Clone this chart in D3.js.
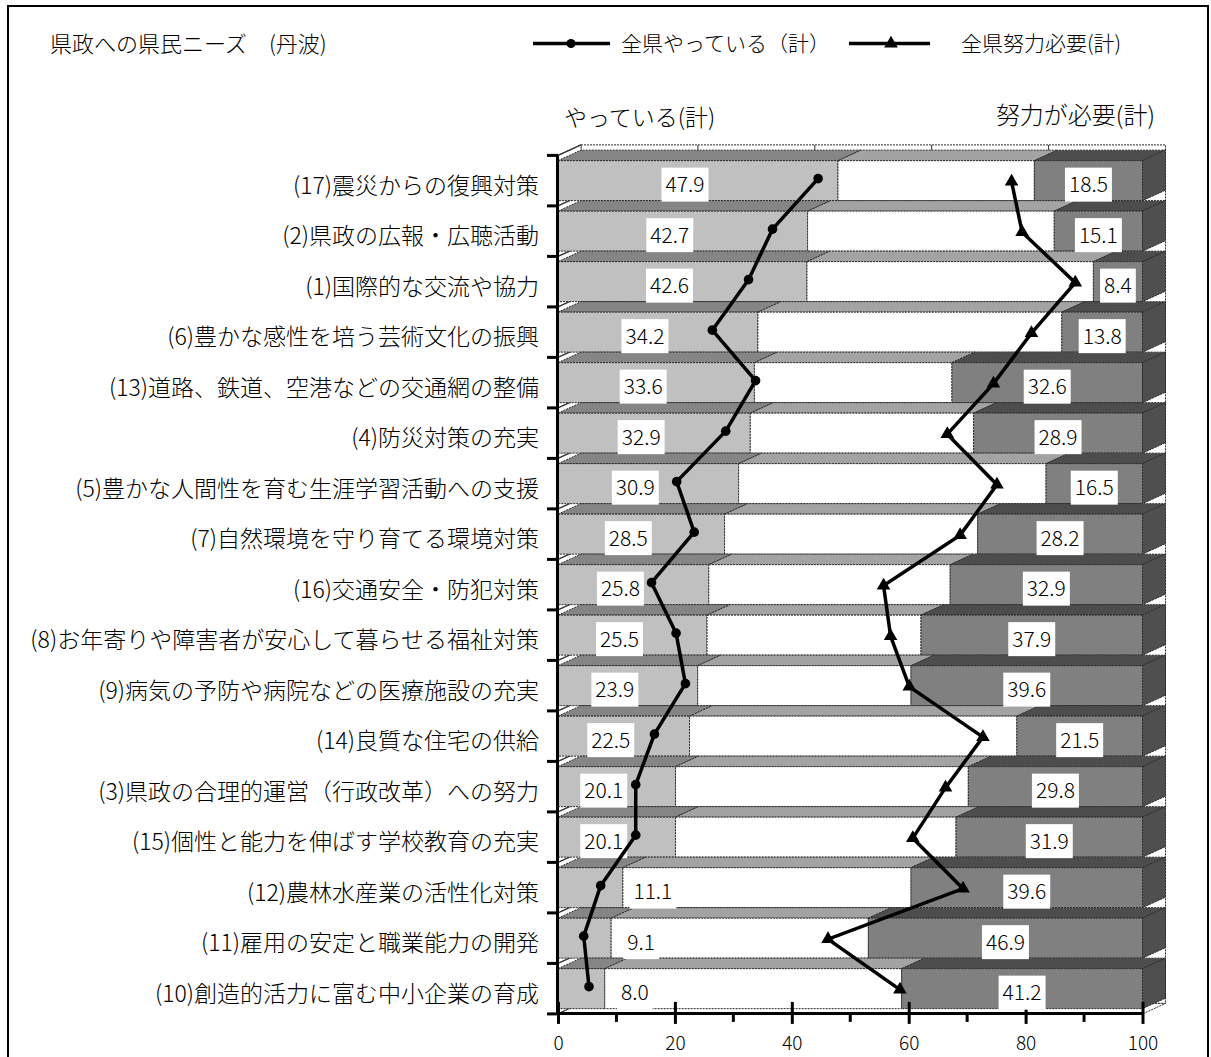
<!DOCTYPE html>
<html>
<head>
<meta charset="utf-8">
<script src="https://cdn.jsdelivr.net/npm/d3@7"></script>
<style>
  html, body { margin: 0; padding: 0; background: #fff; }
  svg text { font-family: "Noto Sans CJK JP", "Noto Sans", sans-serif; font-weight: 300; fill: #000; }
</style>
</head>
<body>
<svg id="chart" width="1211" height="1057"></svg>
<script>
// Items, top to bottom
const categories = [
  "(17)震災からの復興対策",
  "(2)県政の広報・広聴活動",
  "(1)国際的な交流や協力",
  "(6)豊かな感性を培う芸術文化の振興",
  "(13)道路、鉄道、空港などの交通網の整備",
  "(4)防災対策の充実",
  "(5)豊かな人間性を育む生涯学習活動への支援",
  "(7)自然環境を守り育てる環境対策",
  "(16)交通安全・防犯対策",
  "(8)お年寄りや障害者が安心して暮らせる福祉対策",
  "(9)病気の予防や病院などの医療施設の充実",
  "(14)良質な住宅の供給",
  "(3)県政の合理的運営（行政改革）への努力",
  "(15)個性と能力を伸ばす学校教育の充実",
  "(12)農林水産業の活性化対策",
  "(11)雇用の安定と職業能力の開発",
  "(10)創造的活力に富む中小企業の育成"
];
// 丹波: やっている(計) and 努力が必要(計), in %
const doing = [47.9, 42.7, 42.6, 34.2, 33.6, 32.9, 30.9, 28.5, 25.8, 25.5, 23.9, 22.5, 20.1, 20.1, 11.1, 9.1, 8.0];
const needEffort = [18.5, 15.1, 8.4, 13.8, 32.6, 28.9, 16.5, 28.2, 32.9, 37.9, 39.6, 21.5, 29.8, 31.9, 39.6, 46.9, 41.2];
// Prefecture-wide reference lines, in %
const allDoing = [44.5, 36.7, 32.6, 26.4, 33.8, 28.7, 20.3, 23.3, 16.0, 20.2, 21.8, 16.5, 13.3, 13.3, 7.3, 4.4, 5.3];
const allNeed = [22.4, 20.6, 11.5, 19.0, 25.5, 33.4, 24.9, 31.2, 44.3, 43.1, 39.9, 27.3, 33.7, 39.3, 30.7, 53.8, 41.5];
const xTicks = [0, 20, 40, 60, 80, 100];
const xMinorTicks = [10, 30, 50, 70, 90];

const title = "県政への県民ニーズ　(丹波)";
const legendNames = ["全県やっている（計）", "全県努力必要(計)"];
const leftHeading = "やっている(計)";
const rightHeading = "努力が必要(計)";

const svg = d3.select("#chart");
const x = d3.scaleLinear().domain([0, 100]).range([558, 1142.5]);
const y = d3.scaleBand().domain(categories).range([155.4, 1013.9])
  .paddingInner(0.208).paddingOuter(0.104);
const DX = 23, DY = 10.5; // 3D depth projection
const bw = y.bandwidth();
const yTop = y.range()[0], yBot = y.range()[1];

const edge = { stroke: "#2a2a2a", "stroke-width": 1, "stroke-dasharray": "2,1" };
function applyEdge(sel) { Object.entries(edge).forEach(([k, v]) => sel.attr(k, v)); return sel; }

// outer frame
svg.append("rect").attr("x", 8).attr("y", 6).attr("width", 1200).attr("height", 1070)
  .attr("fill", "none").attr("stroke", "#000").attr("stroke-width", 2);

// back wall
const gWall = svg.append("g");
applyEdge(gWall.append("rect")
  .attr("x", x(0) + DX).attr("y", yTop - DY)
  .attr("width", x(100) - x(0)).attr("height", yBot - yTop)
  .attr("fill", "#fff"));
gWall.selectAll("line.grid").data(xTicks.slice(1, -1)).join("line")
  .attr("x1", d => x(d) + DX).attr("x2", d => x(d) + DX)
  .attr("y1", yTop - DY).attr("y2", yBot - DY)
  .attr("stroke", "#333").attr("stroke-width", 1);
// left wall
applyEdge(gWall.append("path")
  .attr("d", `M${x(0)},${yTop}L${x(0) + DX},${yTop - DY}L${x(0) + DX},${yBot - DY}L${x(0)},${yBot}Z`)
  .attr("fill", "#fff"));
const boundaries = d3.range(categories.length + 1).map(i => yTop + i * y.step());
gWall.selectAll("line.lw").data(boundaries).join("line")
  .attr("x1", x(0)).attr("y1", d => d).attr("x2", x(0) + DX).attr("y2", d => d - DY)
  .attr("stroke", "#333").attr("stroke-width", 1.5);
// floor front strip
applyEdge(gWall.append("path")
  .attr("d", `M${x(0)},${yBot}L${x(100)},${yBot}L${x(100) + DX},${yBot - DY}L${x(0) + DX},${yBot - DY}Z`)
  .attr("fill", "#fff"));

// stacked 3D bars
const segColors = [
  { front: "#c0c0c0", top: "#858585", side: "#6e6e6e" },
  { front: "#ffffff", top: "#a3a3a3", side: "#cccccc" },
  { front: "#808080", top: "#4d4d4d", side: "#4f4f4f" }
];
const rows = categories.map((c, i) => {
  const a = doing[i], b = 100 - doing[i] - needEffort[i];
  return { c, i, segs: [[0, a], [a, a + b], [a + b, 100]] };
});
const gBars = svg.append("g");
rows.forEach(r => {
  const t = y(r.c), btm = t + bw;
  r.segs.forEach((s, j) => {
    const x0 = x(s[0]), x1 = x(s[1]);
    applyEdge(gBars.append("path")
      .attr("d", `M${x0},${t}L${x0 + DX},${t - DY}L${x1 + DX},${t - DY}L${x1},${t}Z`)
      .attr("fill", segColors[j].top));
    applyEdge(gBars.append("rect")
      .attr("x", x0).attr("y", t).attr("width", x1 - x0).attr("height", bw)
      .attr("fill", segColors[j].front));
  });
  const xr = x(100);
  applyEdge(gBars.append("path")
    .attr("d", `M${xr},${t}L${xr + DX},${t - DY}L${xr + DX},${btm - DY}L${xr},${btm}Z`)
    .attr("fill", segColors[2].side));
});

// axes
const gAxis = svg.append("g");
gAxis.append("line").attr("x1", x(0) - 0.5).attr("x2", x(0) - 0.5)
  .attr("y1", yTop).attr("y2", yBot + 1).attr("stroke", "#000").attr("stroke-width", 3);
gAxis.selectAll("line.yt").data(boundaries).join("line")
  .attr("x1", 547).attr("x2", x(0)).attr("y1", d => d).attr("y2", d => d)
  .attr("stroke", "#000").attr("stroke-width", 3);

const xAxis = d3.axisBottom(x).tickValues(xTicks).tickSize(0).tickPadding(0);
const gx = svg.append("g").attr("transform", `translate(0,${yBot - 1})`).call(xAxis);
gx.select(".domain").attr("stroke", "#000").attr("stroke-width", 3);
gx.selectAll(".tick text").attr("y", 30).attr("dy", "0.35em")
  .attr("font-size", 19).attr("font-family", '"Noto Sans CJK JP", sans-serif');
gx.selectAll(".tick").append("line").attr("y1", -11).attr("y2", 11)
  .attr("stroke", "#000").attr("stroke-width", 3);
gx.selectAll("line.minor").data(xMinorTicks).join("line")
  .attr("x1", d => x(d)).attr("x2", d => x(d)).attr("y1", 0).attr("y2", 9)
  .attr("stroke", "#000").attr("stroke-width", 3);

// value labels
const gLab = svg.append("g").attr("font-size", 21);
function boxedLabel(cx, cy, txt) {
  const g = gLab.append("g");
  const t = g.append("text").attr("x", cx).attr("y", cy).attr("dy", "0.35em")
    .attr("text-anchor", "middle").text(txt);
  const bb = t.node().getBBox();
  g.insert("rect", "text").attr("x", bb.x - 4).attr("y", cy - 17)
    .attr("width", bb.width + 8).attr("height", 34).attr("fill", "#fff");
}
rows.forEach(r => {
  const cy = y(r.c) + bw / 2 + 4;
  const v = doing[r.i];
  const cx = v < 15 ? x(v) + 30 : x(v / 2) - 13;
  boxedLabel(cx, cy, v.toFixed(1));
  const n = needEffort[r.i];
  boxedLabel(x(100 - n / 2), cy, n.toFixed(1));
});

// prefecture-wide lines
const gLines = svg.append("g");
const lineDoing = d3.line().x(d => x(d.v)).y(d => y(d.c) + bw / 2 - 2);
const doingPts = categories.map((c, i) => ({ c, v: allDoing[i] }));
gLines.append("path").attr("d", lineDoing(doingPts)).attr("fill", "none")
  .attr("stroke", "#000").attr("stroke-width", 3.5).attr("stroke-linejoin", "round");
gLines.selectAll("circle").data(doingPts).join("circle")
  .attr("cx", d => x(d.v)).attr("cy", d => y(d.c) + bw / 2 - 2).attr("r", 4.8).attr("fill", "#000");

const lineNeed = d3.line().x(d => x(100 - d.v)).y(d => y(d.c) + bw / 2 + 1);
const needPts = categories.map((c, i) => ({ c, v: allNeed[i] }));
gLines.append("path").attr("d", lineNeed(needPts)).attr("fill", "none")
  .attr("stroke", "#000").attr("stroke-width", 3.5).attr("stroke-linejoin", "miter");
const tri = d3.symbol().type(d3.symbolTriangle).size(80);
gLines.selectAll("path.tri").data(needPts).join("path").attr("class", "tri")
  .attr("d", tri).attr("fill", "#000")
  .attr("transform", d => `translate(${x(100 - d.v)},${y(d.c) + bw / 2 + 1})`);

// category labels
svg.append("g").selectAll("text").data(categories).join("text")
  .attr("x", 539).attr("y", d => y(d) + bw / 2 + 5).attr("dy", "0.35em")
  .attr("text-anchor", "end").attr("font-size", 23).text(d => d);

// title, headings, legend
svg.append("text").attr("x", 50).attr("y", 44).attr("dy", "0.35em")
  .attr("font-size", 22).text(title);
svg.append("text").attr("x", 564).attr("y", 118).attr("dy", "0.35em")
  .attr("font-size", 23).text(leftHeading);
svg.append("text").attr("x", 1155).attr("y", 116).attr("dy", "0.35em")
  .attr("text-anchor", "end").attr("font-size", 24).text(rightHeading);

const gLeg = svg.append("g");
gLeg.append("line").attr("x1", 533).attr("x2", 610).attr("y1", 43.5).attr("y2", 43.5)
  .attr("stroke", "#000").attr("stroke-width", 3.5);
gLeg.append("circle").attr("cx", 571).attr("cy", 43.5).attr("r", 4.5).attr("fill", "#000");
gLeg.append("text").attr("x", 621).attr("y", 44).attr("dy", "0.35em")
  .attr("font-size", 21).text(legendNames[0]);
gLeg.append("line").attr("x1", 849).attr("x2", 930).attr("y1", 43.5).attr("y2", 43.5)
  .attr("stroke", "#000").attr("stroke-width", 3.5);
gLeg.append("path").attr("d", tri).attr("fill", "#000").attr("transform", "translate(891,43.5)");
gLeg.append("text").attr("x", 961).attr("y", 44).attr("dy", "0.35em")
  .attr("font-size", 21).text(legendNames[1]);
</script>
</body>
</html>
